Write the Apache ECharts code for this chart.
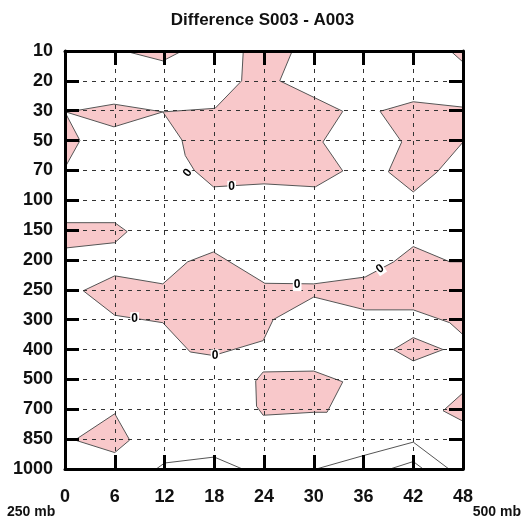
<!DOCTYPE html>
<html><head><meta charset="utf-8">
<script src="https://cdn.jsdelivr.net/npm/echarts@6/dist/echarts.min.js"></script>
<style>html,body{margin:0;padding:0;background:#fff}#c{width:525px;height:523px}</style>
</head><body><div id="c"></div>
<script>
// Tick labels
const hourTicks = [0, 6, 12, 18, 24, 30, 36, 42, 48];
const levels = ['10','20','30','50','70','100','150','200','250','300','400','500','700','850','1000'];

// Positive-difference regions: [forecast hour, level index (0 = 10 mb)]
const polyTop = [[7.2,0],[11.8,0.33],[14.1,0]];
const polyUpperMid = [[21.5,0],[21.3,1.0],[18.1,1.92],[11.8,2.04],[14.1,2.98],[14.5,3.5],[15.6,4.0],[17.9,4.55],[24,4.45],[30.2,4.55],[33.5,4.02],[31.1,3.05],[33.5,2.02],[25.9,1.0],[27.4,0]];
const polyDiamond30 = [[0.2,2.05],[5.9,1.78],[11.8,2.04],[5.9,2.54]];
const polyLeft50 = [[0,2.05],[1.8,3.0],[0,3.9]];
const polyCorner = [[46.5,0],[48,0],[48,0.37]];
const polyRight = [[38,2.02],[42,1.7],[48,1.88],[48,3.05],[44.9,4.05],[42,4.72],[39,4.05],[40.6,3.05]];
const polyLeft150 = [[0,5.75],[6,5.75],[7.5,6.05],[6,6.42],[0,6.6]];
const polyBand = [[2.2,8.03],[6,7.53],[11.8,7.8],[14.8,7.06],[17.9,6.73],[24.1,7.78],[30,7.8],[36.2,7.57],[39.6,7.07],[42,6.55],[46.4,7.06],[48,7.06],[48,9.5],[46.4,9.1],[42,8.67],[36.2,8.67],[30,8.24],[25.1,9.0],[23.9,9.7],[17.9,10.2],[15.1,10.08],[11.8,9.1],[6,8.85]];
const polyDiamond400 = [[39.6,10.0],[42,9.6],[45.6,10.0],[42,10.38]];
const polyMid500 = [[23.9,10.75],[30,10.72],[33.5,11.08],[31.6,12.1],[30,12.1],[23.9,12.2],[23.1,11.9],[23,11.05]];
const polyRight700 = [[48,11.45],[45.6,12.05],[48,12.4]];
const polyLeft850 = [[1.2,13.03],[6,12.15],[7.8,13.03],[6,13.45]];
const polygons = [polyTop, polyUpperMid, polyDiamond30, polyLeft50, polyCorner, polyRight, polyLeft150, polyBand, polyDiamond400, polyMid500, polyRight700, polyLeft850];

// Unfilled contour lines near the surface
const line1 = [[11,14],[12,13.8],[18,13.6],[21.4,14]];
const line2 = [[30.3,14],[36,13.55],[42,13.1],[46.3,14]];
const line3 = [[39.2,14],[42,13.75],[43.2,14]];

// Contour labels: [hour, level index, rotation deg]
const zeroLabels = [[14.8,4.08,55],[20.1,4.55,0],[8.4,8.95,0],[18.1,10.2,0],[28,7.84,0],[38,7.3,35]];

const FILL = '#f8c8ca', EDGE = '#555555';
const NUM_FONT = "'Liberation Sans',Arial,Helvetica,sans-serif";
const chart = echarts.init(document.getElementById('c'));

const gridLine = {show:true, lineStyle:{color:'#333', width:1, type:[4,5]}};
const axisLine = {show:true, onZero:false, lineStyle:{color:'#000', width:3}};
const tick = {show:true, inside:true, length:14, lineStyle:{color:'#000', width:3}};

chart.setOption({
  animation:false,
  title:{text:'Difference S003 - A003', left:'center', top:7,
    textStyle:{fontSize:17, fontWeight:'bold', color:'#111', fontFamily:NUM_FONT}},
  grid:{left:65, right:62, top:51, bottom:54},
  xAxis:[
    {type:'value', min:0, max:48, interval:6, position:'bottom', z:5,
     axisLine, axisTick:tick, splitLine:gridLine,
     axisLabel:{margin:19, fontSize:18, fontWeight:'bold', color:'#111', fontFamily:NUM_FONT,
       formatter:v=>hourTicks.includes(v)?String(v):''}},
    {type:'value', min:0, max:48, interval:6, position:'top', z:5,
     axisLine, axisTick:tick, splitLine:{show:false}, axisLabel:{show:false}}
  ],
  yAxis:[
    {type:'value', min:0, max:14, interval:1, inverse:true, position:'left', z:5,
     axisLine, axisTick:tick, splitLine:gridLine,
     axisLabel:{margin:12, fontSize:18, fontWeight:'bold', color:'#111', fontFamily:NUM_FONT,
       formatter:v=>levels[v]}},
    {type:'value', min:0, max:14, interval:1, inverse:true, position:'right', z:5,
     axisLine, axisTick:tick, splitLine:{show:false}, axisLabel:{show:false}}
  ],
  graphic:[
    {type:'text', left:7, top:505, style:{text:'250 mb', font:"bold 14px "+NUM_FONT, fill:'#111'}},
    {type:'text', right:4, top:505, style:{text:'500 mb', font:"bold 14px "+NUM_FONT, fill:'#111'}}
  ],
  series:[
    {type:'custom', z:1, data:polygons.map((p,i)=>i),
     renderItem:(params, api)=>({type:'polygon',
       shape:{points:polygons[params.dataIndex].map(p=>api.coord(p))},
       style:{fill:FILL, stroke:EDGE, lineWidth:1}})},
    ...[line1,line2,line3].map(l=>({type:'line', z:1, data:l, showSymbol:false, symbol:'none',
       lineStyle:{color:EDGE, width:1}})),
    {type:'custom', z:10, data:zeroLabels,
     renderItem:(params, api)=>{
       const d = zeroLabels[params.dataIndex];
       const c = api.coord([d[0], d[1]]);
       return {type:'text', x:c[0], y:c[1], rotation:d[2]*Math.PI/180,
         style:{text:'0', font:"bold 12px "+NUM_FONT, fill:'#000', align:'center', verticalAlign:'middle',
           backgroundColor:'#fff', padding:[0,1]}};
     }}
  ]
});
</script></body></html>
